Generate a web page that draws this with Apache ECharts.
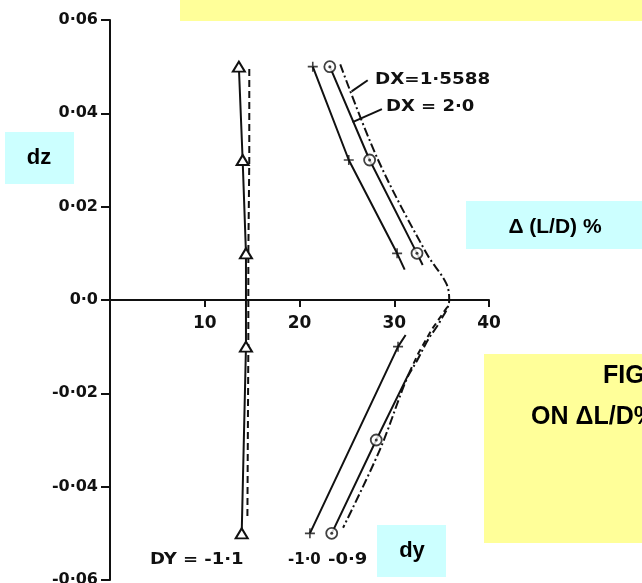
<!DOCTYPE html>
<html>
<head>
<meta charset="utf-8">
<script src="https://cdn.jsdelivr.net/npm/echarts@6/dist/echarts.min.js"></script>
<style>
  html, body { margin: 0; padding: 0; background: #fff; }
  #chart { width: 642px; height: 583px; }
</style>
</head>
<body>
<div id="chart"></div>
<script>
// Axis ticks
const dlTickValues = [0, 10, 20, 30, 40];
const dlTickLabels = ['', '10', '20', '30', '40'];
const dzTickValues = [-0.06, -0.04, -0.02, 0, 0.02, 0.04, 0.06];
const dzTickLabels = ['-0·06', '-0·04', '-0·02', '0·0', '0·02', '0·04', '0·06'];

// DY = -1.1 (triangles)
const dzTri = [0.05, 0.03, 0.01, -0.01, -0.05];
const dlTriDX20 = [13.6, 14.0, 14.35, 14.35, 13.9];
const dzTriDX15 = [0.0495, 0.03, 0.01, -0.01, -0.047];
const dlTriDX15 = [14.7, 14.7, 14.6, 14.6, 14.5];

// DY = -1.0 (crosses), DX = 2.0
const dzPlusMarks = [0.05, 0.03, 0.01, -0.01, -0.05];
const dlPlusMarks = [21.4, 25.2, 30.3, 30.4, 21.1];
const dzPlusUpper = [0.05, 0.03, 0.01, 0.0065];
const dlPlusUpper = [21.4, 25.2, 30.3, 31.1];
const dzPlusLower = [-0.0075, -0.01, -0.05];
const dlPlusLower = [31.2, 30.4, 21.1];

// DY = -0.9 (circles), DX = 2.0
const dzCircMarks = [0.05, 0.03, 0.01, -0.03, -0.05];
const dlCircMarks = [23.2, 27.4, 32.4, 28.1, 23.4];
const dzCircUpper = [0.05, 0.03, 0.01, 0.0075];
const dlCircUpper = [23.2, 27.4, 32.4, 33.0];
const dzCircLower = [-0.0155, -0.03, -0.05];
const dlCircLower = [31.6, 28.1, 23.4];

// DY = -0.9, DX = 1.5588
const dzDX15 = [0.0505, 0.03, 0.01, 0.0035, 0, -0.0047, -0.0084, -0.013, -0.017, -0.032, -0.0488];
const dlDX15 = [24.3, 28.3, 33.4, 35.5, 35.8, 34.8, 33.6, 32.4, 31.3, 28.5, 24.6];
const dzFaired = [-0.0015, -0.0062, -0.0112, -0.0155];
const dlFaired = [35.6, 34.0, 32.6, 31.6];

// Leader lines from curves to their labels
const leaderDX15 = [[25.5, 0.0447], [27.2, 0.0471]];
const leaderDX20 = [[25.6, 0.0381], [28.7, 0.0409]];

const zip = (xs, ys) => xs.map((x, i) => [x, ys[i]]);
const INK = '#111';
const HAND = 'DejaVu Sans';
const SANS = '"Liberation Sans", Arial, sans-serif';

const plusPath = 'path://M4.2,0H5.8V4.2H10V5.8H5.8V10H4.2V5.8H0V4.2H4.2Z';

// Plot frame: dz spans -0.06..0.06 over the grid height, so dz = 0 sits half way.
const GRID_TOP = 20, GRID_BOTTOM = 3, CHART_H = 583;
const plotH = CHART_H - GRID_TOP - GRID_BOTTOM;
const zeroOffset = plotH / 2;

function lineSeries(data, extra) {
  return Object.assign({
    type: 'line',
    data: data,
    showSymbol: false,
    symbol: 'none',
    lineStyle: { color: INK, width: 2 },
    silent: true,
    z: 3
  }, extra || {});
}

const option = {
  animation: false,
  backgroundColor: '#fff',
  grid: {
    left: 110, right: 153, top: GRID_TOP, bottom: GRID_BOTTOM,
    containLabel: false, outerBoundsMode: 'none'
  },
  xAxis: {
    type: 'value', min: 0, max: 40, interval: 10,
    offset: -zeroOffset,
    axisLine: { onZero: false, lineStyle: { color: INK, width: 2 } },
    axisTick: { show: true, length: 7, lineStyle: { color: INK, width: 2 } },
    axisLabel: {
      margin: 15, color: INK, fontFamily: HAND, fontWeight: 'bold', fontSize: 17,
      formatter: v => {
        const i = dlTickValues.findIndex(t => Math.abs(t - v) < 1e-9);
        return i < 0 ? '' : dlTickLabels[i];
      }
    },
    splitLine: { show: false }
  },
  yAxis: {
    type: 'value', min: -0.06, max: 0.06, interval: 0.02,
    axisLine: { show: true, lineStyle: { color: INK, width: 2 } },
    axisTick: { show: true, length: 9, lineStyle: { color: INK, width: 2 } },
    axisLabel: {
      margin: 12, color: INK, fontFamily: HAND, fontWeight: 'bold', fontSize: 16,
      formatter: v => {
        const i = dzTickValues.findIndex(t => Math.abs(t - v) < 1e-9);
        return i < 0 ? '' : dzTickLabels[i];
      }
    },
    splitLine: { show: false }
  },
  series: [
    // DY = -1.1
    lineSeries(zip(dlTriDX20, dzTri), {
      name: 'DY=-1.1 DX=2.0',
      showSymbol: true, symbol: 'triangle', symbolSize: [12, 10],
      itemStyle: { color: '#fff', borderColor: INK, borderWidth: 2 }, z: 4
    }),
    lineSeries(zip(dlTriDX15, dzTriDX15), {
      name: 'DY=-1.1 DX=1.5588',
      lineStyle: { color: INK, width: 2, type: [7, 4] }
    }),
    // DY = -1.0
    lineSeries(zip(dlPlusUpper, dzPlusUpper), { name: 'DY=-1.0 upper' }),
    lineSeries(zip(dlPlusLower, dzPlusLower), { name: 'DY=-1.0 lower' }),
    {
      type: 'scatter', name: 'DY=-1.0 points', data: zip(dlPlusMarks, dzPlusMarks),
      symbol: plusPath, symbolSize: 10, itemStyle: { color: INK }, silent: true, z: 5
    },
    // DY = -0.9
    lineSeries(zip(dlCircUpper, dzCircUpper), {
      name: 'DY=-0.9 upper',
      markLine: {
        silent: true, symbol: ['none', 'none'], label: { show: false },
        lineStyle: { color: INK, width: 2, type: 'solid' },
        data: [[{ coord: leaderDX20[0] }, { coord: leaderDX20[1] }]]
      }
    }),
    lineSeries(zip(dlCircLower, dzCircLower), { name: 'DY=-0.9 lower' }),
    lineSeries(zip(dlDX15, dzDX15), {
      name: 'DY=-0.9 DX=1.5588',
      smooth: 0.35,
      lineStyle: { color: INK, width: 2, type: [9, 3, 2, 3] },
      markLine: {
        silent: true, symbol: ['none', 'none'], label: { show: false },
        lineStyle: { color: INK, width: 2, type: 'solid' },
        data: [[{ coord: leaderDX15[0] }, { coord: leaderDX15[1] }]]
      }
    }),
    lineSeries(zip(dlFaired, dzFaired), {
      name: 'DY=-0.9 faired',
      lineStyle: { color: INK, width: 2, type: [6, 4] }
    }),
    {
      type: 'scatter', name: 'DY=-0.9 points', data: zip(dlCircMarks, dzCircMarks),
      symbol: 'circle', symbolSize: 11,
      itemStyle: { color: '#fff', borderColor: INK, borderWidth: 1.8 }, silent: true, z: 5
    },
    {
      type: 'scatter', name: 'DY=-0.9 centres', data: zip(dlCircMarks, dzCircMarks),
      symbol: 'circle', symbolSize: 3, itemStyle: { color: INK }, silent: true, z: 6
    }
  ],
  graphic: [
    // coloured panels
    { type: 'rect', shape: { x: 180, y: 0, width: 462, height: 21 }, style: { fill: '#ffff99' }, z: 10 },
    { type: 'rect', shape: { x: 5, y: 132, width: 69, height: 52 }, style: { fill: '#ccffff' }, z: 10 },
    { type: 'rect', shape: { x: 466, y: 201, width: 176, height: 48 }, style: { fill: '#ccffff' }, z: 10 },
    { type: 'rect', shape: { x: 377, y: 525, width: 69, height: 52 }, style: { fill: '#ccffff' }, z: 10 },
    { type: 'rect', shape: { x: 484, y: 354, width: 158, height: 189 }, style: { fill: '#ffff99' }, z: 10 },
    // panel captions
    { type: 'text', x: 39, y: 158, z: 11,
      style: { text: 'dz', fill: '#000', font: 'bold 22px ' + SANS, align: 'center', verticalAlign: 'middle' } },
    { type: 'text', x: 555, y: 227, z: 11,
      style: { text: 'Δ (L/D) %', fill: '#000', font: 'bold 21px ' + SANS, align: 'center', verticalAlign: 'middle' } },
    { type: 'text', x: 412, y: 551, z: 11,
      style: { text: 'dy', fill: '#000', font: 'bold 22px ' + SANS, align: 'center', verticalAlign: 'middle' } },
    { type: 'text', x: 603, y: 389, z: 11,
      style: { text: 'FIG', fill: '#000', font: 'bold 25px ' + SANS, align: 'left', verticalAlign: 'bottom' } },
    { type: 'text', x: 531, y: 430, z: 11,
      style: { text: 'ON ΔL/D%', fill: '#000', font: 'bold 25px ' + SANS, align: 'left', verticalAlign: 'bottom' } },
    // curve annotations
    { type: 'text', x: 375, y: 80, scaleX: 1.22, z: 11,
      style: { text: 'DX=1·5588', fill: INK, font: 'bold 15px "DejaVu Sans"', align: 'left', verticalAlign: 'middle' } },
    { type: 'text', x: 386, y: 107, scaleX: 1.2, z: 11,
      style: { text: 'DX = 2·0', fill: INK, font: 'bold 15px "DejaVu Sans"', align: 'left', verticalAlign: 'middle' } },
    { type: 'text', x: 150, y: 560, scaleX: 1.2, z: 11,
      style: { text: 'DY = -1·1', fill: INK, font: 'bold 15px "DejaVu Sans"', align: 'left', verticalAlign: 'middle' } },
    { type: 'text', x: 288, y: 560, z: 11,
      style: { text: '-1·0', fill: INK, font: 'bold 15px "DejaVu Sans"', align: 'left', verticalAlign: 'middle' } },
    { type: 'text', x: 328, y: 560, scaleX: 1.2, z: 11,
      style: { text: '-0·9', fill: INK, font: 'bold 15px "DejaVu Sans"', align: 'left', verticalAlign: 'middle' } }
  ]
};

const chart = echarts.init(document.getElementById('chart'), null, { renderer: 'canvas' });
chart.setOption(option);
</script>
</body>
</html>
